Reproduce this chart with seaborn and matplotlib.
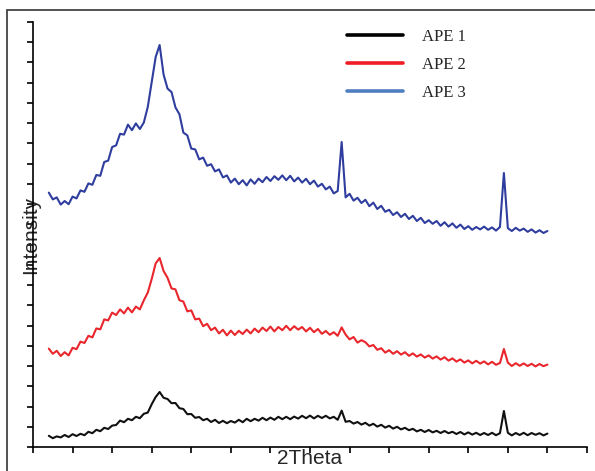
import numpy as np
import pandas as pd
import matplotlib
matplotlib.use('Agg')
import matplotlib.pyplot as plt
from matplotlib.lines import Line2D
from matplotlib.patches import Rectangle
import seaborn as sns

# XRD scan, 2theta positions (step 0.5 deg)
two_theta = np.arange(7.0, 70.5, 0.5)

# intensities (arbitrary units)
ape1 = [56, 44, 53, 48, 60, 50, 64, 55, 66, 59,
        76, 69, 86, 79, 96, 90, 107, 110, 132, 124,
        141, 134, 151, 144, 166, 172, 214, 250, 275, 246,
        240, 219, 220, 194, 190, 164, 165, 146, 150, 134,
        141, 125, 136, 120, 131, 119, 130, 122, 136, 124,
        141, 129, 141, 132, 146, 134, 147, 136, 151, 139,
        151, 139, 152, 142, 156, 144, 157, 143, 156, 145,
        156, 143, 151, 136, 182, 126, 130, 117, 125, 112,
        121, 107, 116, 102, 111, 97, 106, 92, 101, 88,
        96, 84, 91, 78, 86, 75, 85, 73, 81, 70,
        80, 69, 76, 65, 75, 63, 73, 62, 71, 60,
        70, 60, 71, 59, 69, 180, 71, 58, 70, 60,
        71, 59, 70, 61, 69, 58, 67]

ape2 = [492, 466, 481, 455, 474, 458, 496, 489, 527, 520,
        556, 548, 593, 588, 638, 633, 672, 660, 688, 668,
        697, 673, 702, 688, 733, 772, 840, 918, 945, 880,
        846, 793, 788, 734, 727, 678, 683, 638, 642, 604,
        616, 584, 597, 568, 586, 558, 582, 560, 581, 565,
        587, 568, 592, 574, 597, 580, 602, 578, 600, 584,
        606, 584, 604, 587, 600, 578, 596, 574, 590, 566,
        580, 561, 574, 556, 598, 562, 538, 550, 522, 534,
        524, 503, 510, 486, 494, 472, 484, 466, 479, 462,
        474, 456, 468, 452, 463, 447, 458, 442, 453, 437,
        449, 432, 443, 427, 438, 422, 433, 418, 431, 417,
        428, 413, 426, 411, 420, 490, 422, 405, 419, 406,
        418, 405, 416, 403, 415, 404, 412]

ape3 = [1272, 1238, 1248, 1212, 1230, 1214, 1252, 1243, 1283, 1276,
        1318, 1311, 1360, 1356, 1425, 1432, 1500, 1508, 1566, 1562,
        1612, 1584, 1618, 1590, 1622, 1700, 1825, 1950, 2010, 1862,
        1792, 1775, 1698, 1664, 1572, 1558, 1492, 1488, 1438, 1447,
        1406, 1414, 1378, 1388, 1348, 1358, 1322, 1342, 1314, 1334,
        1308, 1338, 1316, 1342, 1324, 1350, 1330, 1354, 1336, 1358,
        1334, 1356, 1328, 1347, 1322, 1341, 1314, 1332, 1302, 1316,
        1288, 1302, 1268, 1280, 1525, 1248, 1266, 1232, 1246, 1220,
        1236, 1204, 1222, 1190, 1206, 1176, 1186, 1160, 1174, 1150,
        1166, 1140, 1156, 1130, 1146, 1120, 1134, 1116, 1130, 1106,
        1124, 1102, 1118, 1096, 1112, 1090, 1104, 1086, 1100, 1088,
        1102, 1086, 1098, 1082, 1100, 1370, 1094, 1080, 1096, 1082,
        1092, 1076, 1088, 1072, 1084, 1070, 1080]

samples = ['APE 1', 'APE 2', 'APE 3']
line_colors = {'APE 1': '#111111', 'APE 2': '#e8262c', 'APE 3': '#2f3d9e'}
legend_colors = ['#000000', '#ee1c24', '#4f7fc0']

df = pd.concat([
    pd.DataFrame({'two_theta': two_theta, 'intensity': vals, 'sample': name})
    for name, vals in zip(samples, [ape1, ape2, ape3])
])

sns.set_style('ticks')
plt.rcParams['font.family'] = ['Liberation Sans', 'DejaVu Sans']

fig = plt.figure(figsize=(5.95, 4.71), dpi=100)
ax = fig.add_axes([33/595, 24/471, 554/595, 425/471])

sns.lineplot(data=df, x='two_theta', y='intensity', hue='sample',
             palette=line_colors, estimator=None, lw=1.5, legend=False, ax=ax)

ax.set_xlim(5, 75)
ax.set_ylim(0, 2125)
ax.set_xticks(np.arange(5, 76, 5))
ax.set_yticks(np.linspace(0, 2125, 22))
ax.set_xticklabels([])
ax.set_yticklabels([])
ax.tick_params(direction='out', length=4, width=1.2, color='black')
sns.despine(ax=ax)
for s in ['left', 'bottom']:
    ax.spines[s].set_color('black')
    ax.spines[s].set_linewidth(1.2)

ax.set_xlabel('2Theta', fontsize=15)
ax.xaxis.set_label_coords(0.5, -0.004)
ax.set_ylabel('Intensity', fontsize=15)
ax.yaxis.set_label_coords(0.012, 0.5)

handles = [Line2D([], [], color=c, lw=2.6) for c in legend_colors]
ax.legend(handles, samples, loc='upper left', bbox_to_anchor=(339/595, 1 - 21/471),
          bbox_transform=fig.transFigure, frameon=False, borderpad=0,
          handlelength=3.35, handletextpad=1.1, labelspacing=0.72,
          prop={'family': 'Liberation Serif', 'size': 12})

# outer frame of the figure panel
fig.add_artist(Rectangle((7/595, -0.1), 1.2, 1 - 10/471 + 0.1, transform=fig.transFigure,
                         fill=False, edgecolor='#444444', lw=1.3))

fig.savefig('out.png', dpi=100)
